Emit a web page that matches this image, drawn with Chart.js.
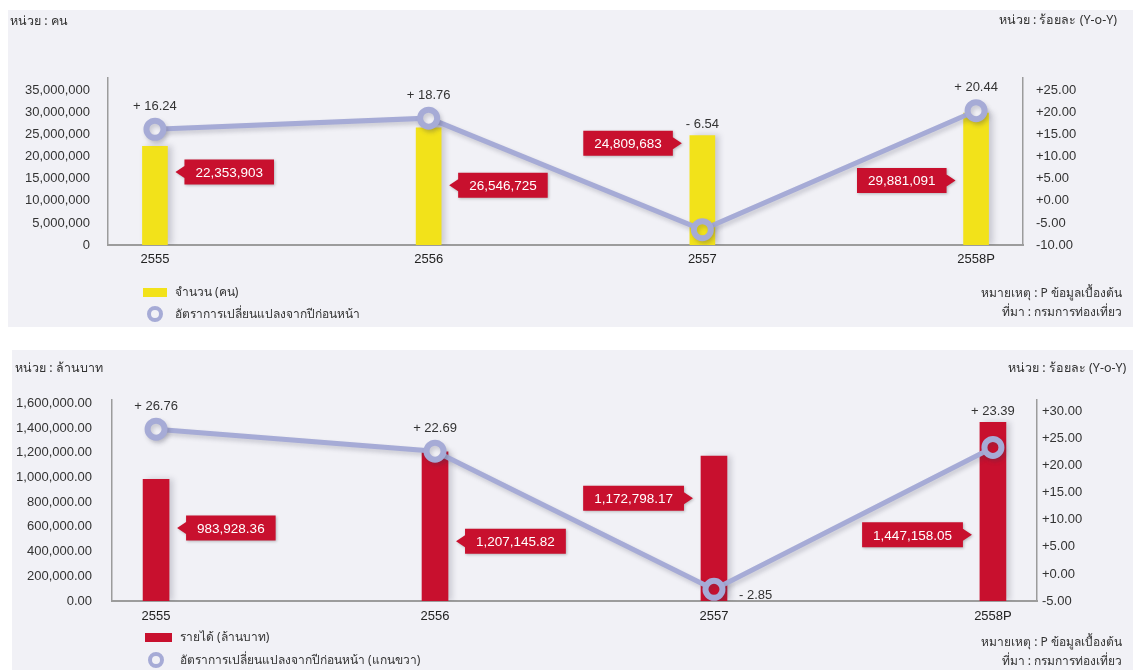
<!DOCTYPE html>
<html lang="th">
<head>
<meta charset="utf-8">
<title>นักท่องเที่ยวและรายได้</title>
<script src="https://cdn.jsdelivr.net/npm/chart.js@4.4.1/dist/chart.umd.min.js"></script>
<style>
  body { margin: 0; background: #fff; width: 1133px; height: 670px; position: relative; overflow: hidden;
         font-family: "Noto Sans", "DejaVu Sans", sans-serif; color: #333; }
  .panel { position: absolute; background: #f1f1f6; overflow: hidden; }
  #p1 { left: 8px; top: 10px; width: 1125px; height: 317px; }
  #p2 { left: 12px; top: 350px; width: 1121px; height: 320px; }
  .panel canvas { position: absolute; left: 0; top: 0; }
  .txt { position: absolute; font-size: 12px; line-height: 16px; white-space: nowrap; }
  .unit { font-size: 12.5px; }
  .r { text-align: right; }
  .swatch { position: absolute; }
  .ring { position: absolute; border-radius: 50%; box-sizing: border-box; }
</style>
</head>
<body>

<div class="panel" id="p1">
  <canvas id="visitorChart" width="1125" height="317"></canvas>
  <div class="txt unit" style="left:2px; top:3px">หน่วย : คน</div>
  <div class="txt unit r" style="right:16px; top:2px">หน่วย : ร้อยละ (Y-o-Y)</div>
  <div class="swatch" id="sw1" style="left:135px; top:278px; width:24px; height:9px"></div>
  <div class="txt" style="left:167px; top:274px">จำนวน (คน)</div>
  <div class="ring" id="rg1" style="left:139px; top:296px; width:16px; height:16px"></div>
  <div class="txt" style="left:167px; top:296px">อัตราการเปลี่ยนแปลงจากปีก่อนหน้า</div>
  <div class="txt r" style="right:11px; top:275px">หมายเหตุ : P ข้อมูลเบื้องต้น</div>
  <div class="txt r" style="right:11px; top:294px">ที่มา : กรมการท่องเที่ยว</div>
</div>

<div class="panel" id="p2">
  <canvas id="incomeChart" width="1121" height="320"></canvas>
  <div class="txt unit" style="left:3px; top:10px">หน่วย : ล้านบาท</div>
  <div class="txt unit" style="left:996px; top:10px">หน่วย : ร้อยละ (Y-o-Y)</div>
  <div class="swatch" id="sw2" style="left:133px; top:283px; width:27px; height:9px"></div>
  <div class="txt" style="left:168px; top:279px">รายได้ (ล้านบาท)</div>
  <div class="ring" id="rg2" style="left:136px; top:302px; width:16px; height:16px"></div>
  <div class="txt" style="left:168px; top:302px">อัตราการเปลี่ยนแปลงจากปีก่อนหน้า (แกนขวา)</div>
  <div class="txt r" style="right:11px; top:284px">หมายเหตุ : P ข้อมูลเบื้องต้น</div>
  <div class="txt r" style="right:11px; top:303px">ที่มา : กรมการท่องเที่ยว</div>
</div>

<script>
// Data
const years = ['2555', '2556', '2557', '2558P'];
const visitors = [22353903, 26546725, 24809683, 29881091];      // จำนวน (คน)
const visitorGrowth = [16.24, 18.76, -6.54, 20.44];             // ร้อยละ (Y-o-Y)
const income = [983928.36, 1207145.82, 1172798.17, 1447158.05]; // รายได้ (ล้านบาท)
const incomeGrowth = [26.76, 22.69, -2.85, 23.39];              // ร้อยละ (Y-o-Y)

// Colours
const panelBg = '#f1f1f6';
const yellow = '#f2e21a';
const red = '#c8102e';
const lavender = '#a6abd6';
const axisGrey = '#9c9c9c';
const tickFont = { family: '"Liberation Sans", Arial, sans-serif', size: 13 };

document.getElementById('sw1').style.background = yellow;
document.getElementById('sw2').style.background = red;
for (const id of ['rg1', 'rg2']) document.getElementById(id).style.border = '4px solid ' + lavender;

const asPoints = arr => arr.map((v, i) => ({ x: i, y: v }));
const signed = v => (v >= 0 ? '+' : '') + v.toFixed(2);

// soft drop shadow under bars and the growth line
const softShadow = {
  id: 'softShadow',
  beforeDatasetDraw(chart, args) {
    const ctx = chart.ctx;
    const isBar = args.meta.type === 'bar';
    ctx.save();
    ctx.shadowColor = 'rgba(60, 60, 80, 0.22)';
    ctx.shadowBlur = isBar ? 6 : 4;
    ctx.shadowOffsetX = isBar ? 4 : 2;
    ctx.shadowOffsetY = isBar ? 0 : 3;
  },
  afterDatasetDraw(chart) {
    chart.ctx.restore();
  }
};

// red value tags with an arrow pointing at each bar
const valueTags = {
  id: 'valueTags',
  afterDatasetsDraw(chart, args, opts) {
    const ctx = chart.ctx;
    const bars = chart.getDatasetMeta(0).data;
    const values = chart.data.datasets[0].data;
    ctx.save();
    ctx.font = '13.5px "Liberation Sans", Arial, sans-serif';
    bars.forEach((bar, i) => {
      const v = values[i].y;
      const text = opts.format(v);
      const cy = chart.scales.y.getPixelForValue(v * opts.level[i]);
      const w = ctx.measureText(text).width + 22, h = 25;
      const half = bar.width / 2;
      const right = opts.side[i] === 'right';
      const tipX = right ? bar.x + half + 8 : bar.x - half - 8;
      const x0 = right ? tipX + 9 : tipX - 9 - w;
      const x1 = x0 + w;
      ctx.shadowColor = 'rgba(0, 0, 0, 0.25)';
      ctx.shadowBlur = 3;
      ctx.shadowOffsetX = 1;
      ctx.shadowOffsetY = 1;
      ctx.fillStyle = red;
      ctx.beginPath();
      if (right) {
        ctx.moveTo(x0, cy - h / 2);
        ctx.lineTo(x1, cy - h / 2);
        ctx.lineTo(x1, cy + h / 2);
        ctx.lineTo(x0, cy + h / 2);
        ctx.lineTo(x0, cy + 6);
        ctx.lineTo(tipX, cy);
        ctx.lineTo(x0, cy - 6);
      } else {
        ctx.moveTo(x0, cy - h / 2);
        ctx.lineTo(x1, cy - h / 2);
        ctx.lineTo(x1, cy - 6);
        ctx.lineTo(tipX, cy);
        ctx.lineTo(x1, cy + 6);
        ctx.lineTo(x1, cy + h / 2);
        ctx.lineTo(x0, cy + h / 2);
      }
      ctx.closePath();
      ctx.fill();
      ctx.shadowColor = 'transparent';
      ctx.fillStyle = '#fff';
      ctx.textAlign = 'center';
      ctx.textBaseline = 'middle';
      ctx.fillText(text, (x0 + x1) / 2, cy + 1);
    });
    ctx.restore();
  }
};

// growth rate text over each point
const rateLabels = {
  id: 'rateLabels',
  afterDatasetsDraw(chart, args, opts) {
    const ctx = chart.ctx;
    const bars = chart.getDatasetMeta(0).data;
    const pts = chart.getDatasetMeta(1).data;
    const rates = chart.data.datasets[1].data;
    ctx.save();
    ctx.font = '13px "Liberation Sans", Arial, sans-serif';
    ctx.fillStyle = '#333';
    ctx.textBaseline = 'middle';
    pts.forEach((p, i) => {
      const r = rates[i].y;
      const text = (r < 0 ? '- ' : '+ ') + Math.abs(r).toFixed(2);
      if (r < 0 && opts.negativeBeside) {
        ctx.textAlign = 'left';
        ctx.fillText(text, p.x + 25, p.y + 6);
      } else {
        ctx.textAlign = 'center';
        ctx.fillText(text, p.x, Math.min(p.y - 23, bars[i].y - 11));
      }
    });
    ctx.restore();
  }
};

function buildChart(id, cfg) {
  const ringFill = ctx => {
    const chart = ctx.chart;
    const barY = chart.scales.y.getPixelForValue(chart.data.datasets[0].data[ctx.dataIndex].y);
    const ptY = chart.scales.y1.getPixelForValue(ctx.raw.y);
    return ptY > barY ? cfg.barColor : panelBg;
  };
  return new Chart(document.getElementById(id), {
    type: 'bar',
    data: {
      datasets: [
        {
          type: 'bar',
          data: asPoints(cfg.bars),
          backgroundColor: cfg.barColor,
          barThickness: cfg.barWidth,
          yAxisID: 'y',
          order: 2
        },
        {
          type: 'line',
          data: asPoints(cfg.rates),
          borderColor: lavender,
          borderWidth: 5,
          pointRadius: 8.5,
          pointBorderWidth: 6,
          pointBorderColor: lavender,
          pointBackgroundColor: ringFill,
          yAxisID: 'y1',
          order: 1
        }
      ]
    },
    options: {
      responsive: false,
      animation: false,
      layout: { padding: { top: cfg.top, left: 0, right: 0, bottom: 0 } },
      plugins: {
        legend: { display: false },
        tooltip: { enabled: false },
        valueTags: cfg.tags,
        rateLabels: { negativeBeside: cfg.negativeBeside }
      },
      scales: {
        x: {
          type: 'linear',
          offset: false,
          min: -cfg.edge,
          max: years.length - 1 + cfg.edge,
          grid: { display: false, drawTicks: false },
          border: { display: true, color: axisGrey, width: 2 },
          afterFit: s => { s.height = cfg.xHeight; },
          ticks: {
            stepSize: 1,
            includeBounds: false,
            autoSkip: false,
            maxRotation: 0,
            padding: cfg.xPad,
            color: '#222',
            font: tickFont,
            callback: v => years[v] ?? ''
          }
        },
        y: {
          position: 'left',
          min: 0,
          max: cfg.leftMax,
          grid: { display: false, drawTicks: false },
          border: { display: true, color: axisGrey, width: 1.5 },
          afterFit: s => { s.width = 100; },
          // round steps only; the axis runs a little past the last one
          afterBuildTicks: s => {
            const t = [];
            for (let v = 0; v <= cfg.leftMax; v += cfg.leftStep) t.push({ value: v });
            s.ticks = t;
          },
          ticks: {
            padding: cfg.leftPad,
            color: '#333',
            font: tickFont,
            callback: cfg.leftFormat
          }
        },
        y1: {
          position: 'right',
          min: cfg.rightMin,
          max: cfg.rightMax,
          grid: { display: false, drawTicks: false },
          border: { display: true, color: axisGrey, width: 1.5 },
          afterFit: s => { s.width = cfg.rightWidth; },
          afterBuildTicks: s => {
            const t = [];
            for (let v = cfg.rightMin; v <= cfg.rightMax; v += 5) t.push({ value: v });
            s.ticks = t;
          },
          ticks: {
            padding: cfg.rightPad,
            color: '#333',
            font: tickFont,
            callback: v => signed(v)
          }
        }
      }
    },
    plugins: [softShadow, valueTags, rateLabels]
  });
}

// นักท่องเที่ยว
buildChart('visitorChart', {
  bars: visitors,
  rates: visitorGrowth,
  barColor: yellow,
  barWidth: 25,
  edge: 0.1715,
  top: 68,
  xHeight: 82,
  xPad: 7,
  leftMax: 37860000,
  leftStep: 5000000,
  leftPad: 18,
  leftFormat: v => v.toLocaleString('en-US'),
  rightMin: -10,
  rightMax: 27.86,
  rightWidth: 110,
  rightPad: 13,
  negativeBeside: false,
  tags: {
    side: ['right', 'right', 'left', 'left'],
    level: [0.74, 0.51, 0.93, 0.49],
    format: v => v.toLocaleString('en-US')
  }
});

// รายได้
buildChart('incomeChart', {
  bars: income,
  rates: incomeGrowth,
  barColor: red,
  barWidth: 26,
  edge: 0.158,
  top: 50,
  xHeight: 69,
  xPad: 8,
  leftMax: 1627000,
  leftStep: 200000,
  leftPad: 20,
  leftFormat: v => v.toLocaleString('en-US', { minimumFractionDigits: 2, maximumFractionDigits: 2 }),
  rightMin: -5,
  rightMax: 32.16,
  rightWidth: 96,
  rightPad: 5,
  negativeBeside: true,
  tags: {
    side: ['right', 'right', 'left', 'left'],
    level: [0.60, 0.40, 0.71, 0.37],
    format: v => v.toLocaleString('en-US', { minimumFractionDigits: 2, maximumFractionDigits: 2 })
  }
});
</script>
</body>
</html>
